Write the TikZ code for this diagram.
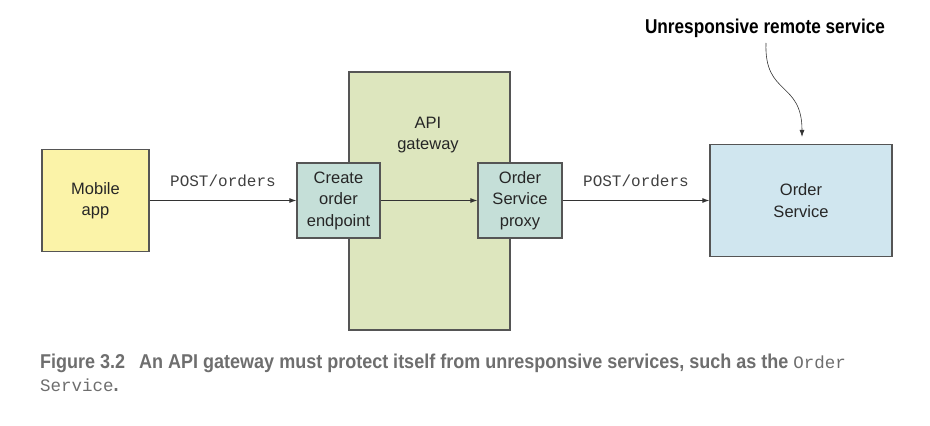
\documentclass[tikz,border=0pt]{standalone}
\usepackage{fontspec}
\setmainfont{Liberation Sans}
\setmonofont{Liberation Mono}
\newfontfamily\condbold{Liberation Sans Bold}[FakeStretch=0.86]
\newfontfamily\capbold{Liberation Sans Bold}[FakeStretch=0.9]
\usetikzlibrary{arrows.meta}
\definecolor{bordergray}{HTML}{555555}
\definecolor{mobileyellow}{HTML}{FBF3A8}
\definecolor{gwgreen}{HTML}{DDE6BE}
\definecolor{epteal}{HTML}{C5DFD8}
\definecolor{svcblue}{HTML}{D0E6EF}
\definecolor{capgray}{HTML}{6E6E6E}
\definecolor{labelgray}{HTML}{404040}
\tikzset{
  box/.style={draw=bordergray, line width=1.3pt, align=center, inner sep=0pt,
    font=\fontsize{16.5}{21.5}\selectfont, text=black!85},
  conn/.style={line width=0.9pt, draw=black!80, -{Latex[length=7pt,width=5pt]}},
  mono/.style={font=\fontsize{16}{16}\ttfamily, text=labelgray},
}
\begin{document}
\begin{tikzpicture}[x=1pt,y=1pt]
\useasboundingbox (0,0) rectangle (930,426);
\node[box, fill=gwgreen, minimum width=161pt, minimum height=258pt] (gw) at (429.5,225) {};
\node[align=center, font=\fontsize{16.5}{21.5}\selectfont, text=black!85] (gwlabel) at (428,291) {API\\gateway};
\node[box, fill=mobileyellow, minimum width=107pt, minimum height=102pt] (mobile) at (95.5,225.5) {Mobile\\app};
\node[box, fill=epteal, minimum width=83pt, minimum height=75pt] (create) at (338.5,225.5) {Create\\order\\endpoint};
\node[box, fill=epteal, minimum width=84pt, minimum height=75pt] (proxy) at (520,225.5) {Order\\Service\\proxy};
\node[box, fill=svcblue, minimum width=182pt, minimum height=112pt] (order) at (801,225.5) {Order\\Service};
\draw[conn] (mobile) -- node[mono, midway, above=10pt] (lbl1) {POST/orders} (create);
\draw[conn] (create) -- (proxy);
\draw[conn] (proxy) -- node[mono, midway, above=10pt] (lbl2) {POST/orders} (order);
\node[font=\condbold\fontsize{20}{20}\selectfont, text=black] (title) at (765,398) {Unresponsive remote service};
\draw[line width=0.6pt, draw=black!80, -{Latex[length=7pt,width=5pt]}, shorten >=7pt]
  (766,383) .. controls (764,330) and (802,345) .. ([xshift=1pt]order.north);
\node[anchor=base west, inner sep=0pt, text=capgray] (cap1) at (40,57)
  {{\capbold\fontsize{20}{20}\selectfont Figure 3.2\hspace{14pt}An API gateway must protect itself from unresponsive services, such as the }{\fontsize{17.5}{17.5}\ttfamily Order}};
\node[anchor=base west, inner sep=0pt, text=capgray] (cap2) at (40,34)
  {{\fontsize{17.5}{17.5}\ttfamily Service}{\capbold\fontsize{20}{20}\selectfont .}};
\end{tikzpicture}
\end{document}
